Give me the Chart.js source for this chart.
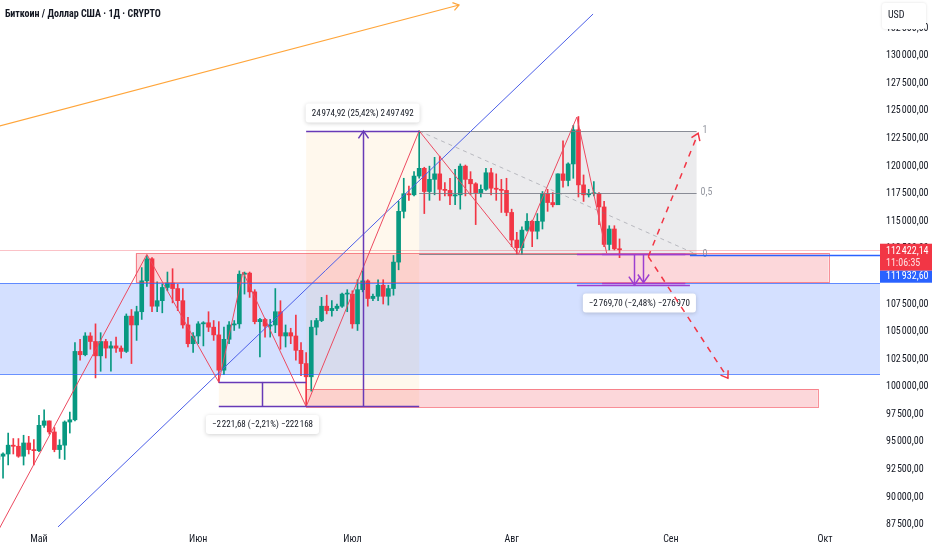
<!DOCTYPE html>
<html>
<head>
<meta charset="utf-8">
<script src="https://cdn.jsdelivr.net/npm/chart.js@4.4.1/dist/chart.umd.min.js"></script>
<style>
html, body { margin: 0; padding: 0; background: #fff; }
#wrap { width: 932px; height: 550px; }
</style>
</head>
<body>
<div id="wrap"><canvas id="chart"></canvas></div>
<script>
// --- данные (дневные свечи BTC/USD) ---
const monthDays = [0, 31, 61, 92, 123, 153];
const monthNames = ['Май', 'Июн', 'Июл', 'Авг', 'Сен', 'Окт'];
const priceTicks = [87500, 90000, 92500, 95000, 97500, 100000, 102500, 105000, 107500,
    110000, 112500, 115000, 117500, 120000, 122500, 125000, 127500, 130000, 132500];

const dates = ['04-23','04-24','04-25','04-26','04-27','04-28','04-29','04-30',
    '05-01','05-02','05-03','05-04','05-05','05-06','05-07','05-08','05-09','05-10','05-11','05-12','05-13','05-14','05-15','05-16',
    '05-17','05-18','05-19','05-20','05-21','05-22','05-23','05-24','05-25','05-26','05-27','05-28','05-29','05-30','05-31',
    '06-01','06-02','06-03','06-04','06-05','06-06','06-07','06-08','06-09','06-10','06-11','06-12','06-13','06-14','06-15',
    '06-16','06-17','06-18','06-19','06-20','06-21','06-22','06-23','06-24','06-25','06-26','06-27','06-28','06-29','06-30',
    '07-01','07-02','07-03','07-04','07-05','07-06','07-07','07-08','07-09','07-10','07-11','07-12','07-13','07-14','07-15',
    '07-16','07-17','07-18','07-19','07-20','07-21','07-22','07-23','07-24','07-25','07-26','07-27','07-28','07-29','07-30','07-31',
    '08-01','08-02','08-03','08-04','08-05','08-06','08-07','08-08','08-09','08-10','08-11','08-12','08-13','08-14','08-15',
    '08-16','08-17','08-18','08-19','08-20','08-21','08-22'];
const opens = [93400,93700,93900,94700,94600,93700,94900,94300,
    94200,96500,96900,95900,94300,94700,96800,97000,103200,102900,104600,104100,102800,104100,103500,103700,
    103500,103200,106400,105600,106800,109600,111600,107300,107800,109000,109400,108900,107800,105600,103900,
    104600,105700,105800,105400,104700,101500,104300,105600,105700,110200,110300,108600,105900,106100,105500,
    105600,106800,104600,104900,104600,103300,102100,100900,105400,106000,107300,106900,107100,107300,108400,
    108400,105700,108800,109600,108000,108200,109200,108200,108900,111300,115900,117500,117400,119100,119800,
    117700,118800,119300,117900,117800,117300,117400,120000,118800,118400,117600,117900,119400,118000,117900,117800,
    115800,113300,112600,114200,115000,114100,115000,117500,116700,116500,119300,118700,120200,123300,118300,
    117400,117500,117500,116300,112900,114300,112500];
const highs = [94500,94000,95800,95300,95300,95600,95500,95200,
    97400,97900,96900,96300,95200,96900,97700,104000,104300,104900,104900,105700,104900,104300,104100,104500,
    103700,106600,107000,107300,110800,111900,111700,109500,109300,110400,110700,109300,108900,106300,104900,
    105900,105900,106800,106000,105900,105400,105900,106000,110500,110400,110400,108800,106200,106200,106100,
    108900,107800,105600,105300,106500,104000,103100,106000,106200,108100,108300,107800,107500,108500,108800,
    108700,109700,110500,109700,108400,109700,109700,109200,111900,116800,118900,118200,119500,123200,119900,
    120000,120800,120900,118500,118900,119700,120200,120100,119500,118500,118300,119800,119800,119300,118800,118900,
    116100,114000,114500,115700,115100,115700,117700,117900,117600,119300,122300,120300,123700,124500,119200,
    117900,118600,117600,116800,114600,114600,113400];
const lows = [91900,91700,92900,93900,93600,92900,93900,92900,
    94100,96300,95700,94100,93500,93400,95800,96900,102400,102800,103400,100800,101400,102600,101400,103100,
    102600,103100,102100,104200,106100,109100,106800,106800,106700,108700,107600,106900,105300,103600,103100,
    103900,103700,105000,104200,100400,101100,103900,105100,105300,108400,108100,105700,102700,104500,104500,
    104900,103400,103600,103900,102400,101000,98200,99600,104700,105900,106600,106400,106900,107200,106800,
    105300,105100,108600,107300,107800,107800,107500,107400,108300,110600,115300,116900,117300,118900,115700,
    116900,117400,116900,117300,116500,116500,116100,117300,117400,114700,117200,117800,117400,116900,115800,115500,
    112700,112000,112000,114100,112700,113400,114300,115900,116300,116500,118100,118200,118900,117200,116800,
    117200,117300,114700,112700,112400,112400,111700];
const closes = [93700,93900,94700,94600,93700,94900,94300,94200,
    96500,96900,95900,94300,94700,96800,97000,103200,102900,104600,104100,102800,104100,103500,103700,103500,
    103200,106400,105600,106800,109600,111600,107300,107800,109000,109400,108900,107800,105600,103900,104600,
    105700,105800,105400,104700,101500,104300,105600,105700,110200,110300,108600,105900,106100,105500,105600,
    106800,104600,104900,104600,103300,102100,100900,105400,106000,107300,106900,107100,107300,108400,108400,
    105700,108800,109600,108000,108200,109200,108200,108900,111300,115900,117500,117400,119100,119800,117700,
    118800,119300,117900,117800,117300,117400,120000,118800,118400,117600,117900,119400,118000,117900,117800,115800,
    113300,112600,114200,115000,114100,115000,117500,116700,116500,119300,118700,120200,123300,118300,117400,
    117500,117500,116300,112900,114300,112500,112422.14];

// --- разметка поверх графика (дни от 1 мая, цены) ---
const blueZone = [101160, 109380];
const pinkZone = { d0: 18.8, d1: 153.7, p0: 109430, p1: 112100 };
const lowZone = { d0: 52, d1: 151.6, p0: 98150, p1: 99780 };
const fib = { d0: 74, d1: 128, p0: 112000, p1: 123187 };
const zigDays = [-8, 21, 35, 39.7, 52, 74, 93.3, 104.7, 110.5];
const zigPrices = [86900, 112000, 100400, 110400, 98200, 123200, 112000, 124450, 112100];
const trendBlue = [[3.7, 87285], [107.85, 133794]];
const trendOrange = [[-8, 123590], [81.76, 134610]];
const pathUp = [[118.6, 111790], [128.3, 122980]];
const pathDown = [[118.6, 111790], [134.1, 100770]];
const rayLevel = 111932.60;
const lastPrice = 112422.14;
const measures = [
    { d0: 52, d1: 74, p0: 98212, p1: 123187, text: '24\u200a974,92 (25,42%) 2\u200a497\u200a492', fill: true },
    { d0: 35, d1: 52, p0: 100433, p1: 98212, text: '\u22122\u200a221,68 (\u22122,21%) \u2212222\u200a168', fill: true },
    { d0: 104.7, d1: 126.7, p0: 112000, p1: 109230, text: '\u22122\u200a769,70 (\u22122,48%) \u2212276\u200a970', fill: false, arrowAt: 115.8 },
    { d0: 109.6, d1: 125.8, p0: 112000, p1: 109430, text: null, fill: false, arrowAt: 117.6 }
];

const FONT = '"Liberation Sans Narrow", "Roboto Condensed", "Noto Sans", sans-serif';
const UP = '#089981';
const DOWN = '#f23645';

function dayOf(md) {
    const [m, d] = md.split('-').map(Number);
    return (Date.UTC(2025, m - 1, d) - Date.UTC(2025, 4, 1)) / 864e5;
}

function fmt(v) {
    const parts = v.toFixed(2).split('.');
    return parts[0].replace(/\B(?=(\d{3})+(?!\d))/g, '\u200a') + ',' + parts[1];
}

function candleColor(c) {
    const i = c.dataIndex;
    return closes[i] >= opens[i] ? UP : DOWN;
}

function seg(ctx, x1, y1, x2, y2, color, width, dash) {
    ctx.save();
    ctx.strokeStyle = color;
    ctx.lineWidth = width || 1;
    ctx.setLineDash(dash || []);
    ctx.beginPath();
    ctx.moveTo(x1, y1);
    ctx.lineTo(x2, y2);
    ctx.stroke();
    ctx.restore();
}

function hline(ctx, x1, x2, y, color, width) {
    const yy = Math.round(y) + 0.5;
    seg(ctx, x1, yy, x2, yy, color, width);
}

function head(ctx, x1, y1, x2, y2, len, color, width) {
    const a = Math.atan2(y2 - y1, x2 - x1);
    const s = 0.6;
    ctx.save();
    ctx.strokeStyle = color;
    ctx.lineWidth = width || 1;
    ctx.beginPath();
    ctx.moveTo(x2 - len * Math.cos(a - s), y2 - len * Math.sin(a - s));
    ctx.lineTo(x2, y2);
    ctx.lineTo(x2 - len * Math.cos(a + s), y2 - len * Math.sin(a + s));
    ctx.stroke();
    ctx.restore();
}

function tag(ctx, text, cx, cy) {
    ctx.save();
    ctx.font = '9px ' + FONT;
    const w = ctx.measureText(text).width + 12;
    const h = 19;
    ctx.shadowColor = 'rgba(0,0,0,0.18)';
    ctx.shadowBlur = 4;
    ctx.shadowOffsetY = 1;
    ctx.fillStyle = '#fff';
    ctx.beginPath();
    ctx.roundRect(cx - w / 2, cy - h / 2, w, h, 3);
    ctx.fill();
    ctx.shadowColor = 'transparent';
    ctx.fillStyle = '#131722';
    ctx.textAlign = 'center';
    ctx.textBaseline = 'middle';
    ctx.fillText(text, cx, cy + 0.5);
    ctx.restore();
}

function clipArea(ctx, a) {
    ctx.beginPath();
    ctx.rect(a.left, a.top, a.right - a.left, a.bottom - a.top);
    ctx.clip();
}

const drawings = {
    id: 'drawings',
    beforeDatasetsDraw(chart) {
        const { ctx, chartArea: a, scales: { x, y } } = chart;
        const X = v => x.getPixelForValue(v);
        const Y = v => y.getPixelForValue(v);
        ctx.save();
        clipArea(ctx, a);

        // синяя зона
        ctx.fillStyle = 'rgba(41,98,255,0.2)';
        ctx.fillRect(a.left, Y(blueZone[1]), a.right - a.left, Y(blueZone[0]) - Y(blueZone[1]));

        // серый фибо-блок
        ctx.fillStyle = 'rgba(120,123,134,0.15)';
        ctx.fillRect(X(fib.d0), Y(fib.p1), X(fib.d1) - X(fib.d0), Y(fib.p0) - Y(fib.p1));

        // измерения — кремовая заливка
        measures.forEach(m => {
            if (!m.fill) return;
            const top = Y(Math.max(m.p0, m.p1)), bot = Y(Math.min(m.p0, m.p1));
            ctx.fillStyle = 'rgba(255,152,0,0.07)';
            ctx.fillRect(X(m.d0), top, X(m.d1) - X(m.d0), bot - top);
        });

        // красные зоны
        [pinkZone, lowZone].forEach(z => {
            ctx.fillStyle = 'rgba(242,54,69,0.2)';
            ctx.fillRect(X(z.d0), Y(z.p1), X(z.d1) - X(z.d0), Y(z.p0) - Y(z.p1));
        });
        ctx.restore();
    },
    afterDatasetsDraw(chart) {
        const { ctx, chartArea: a, scales: { x, y } } = chart;
        const X = v => x.getPixelForValue(v);
        const Y = v => y.getPixelForValue(v);
        ctx.save();
        clipArea(ctx, a);

        // линия последней цены
        hline(ctx, a.left, a.right, Y(lastPrice), 'rgba(242,54,69,0.3)', 1);

        // границы синей зоны
        hline(ctx, a.left, a.right, Y(blueZone[1]), 'rgba(41,98,255,0.7)', 1);
        hline(ctx, a.left, a.right, Y(blueZone[0]), 'rgba(41,98,255,0.7)', 1);

        // рамки красных зон
        [pinkZone, lowZone].forEach(z => {
            ctx.save();
            ctx.strokeStyle = 'rgba(242,54,69,0.55)';
            ctx.lineWidth = 1;
            ctx.strokeRect(Math.round(X(z.d0)) + 0.5, Math.round(Y(z.p1)) + 0.5,
                Math.round(X(z.d1) - X(z.d0)), Math.round(Y(z.p0) - Y(z.p1)));
            ctx.restore();
        });

        // фибо уровни
        const fx0 = X(fib.d0), fx1 = X(fib.d1);
        const fmid = (fib.p0 + fib.p1) / 2;
        hline(ctx, fx0, fx1, Y(fib.p1), 'rgba(120,123,134,0.85)', 1);
        hline(ctx, fx0, fx1, Y(fmid), 'rgba(120,123,134,0.85)', 1);
        hline(ctx, fx0, fx1, Y(fib.p0), 'rgba(120,123,134,0.85)', 1);
        seg(ctx, fx0, Y(fib.p1), fx1, Y(fib.p0), 'rgba(120,123,134,0.45)', 1, [4, 4]);
        ctx.save();
        ctx.font = '10px ' + FONT;
        ctx.fillStyle = '#9598a1';
        ctx.textBaseline = 'middle';
        ctx.fillText('1', fx1 + 6, Y(fib.p1));
        ctx.fillText('0,5', fx1 + 4, Y(fmid));
        ctx.fillText('0', fx1 + 6, Y(fib.p0));
        ctx.restore();

        // луч
        hline(ctx, X(fib.d1 - 1.3), a.right, Y(rayLevel), '#2962ff', 1.5);

        // трендовые линии
        seg(ctx, X(trendBlue[0][0]), Y(trendBlue[0][1]), X(trendBlue[1][0]), Y(trendBlue[1][1]), '#4c5fe8', 1);
        const ox1 = X(trendOrange[0][0]), oy1 = Y(trendOrange[0][1]);
        const ox2 = X(trendOrange[1][0]), oy2 = Y(trendOrange[1][1]);
        seg(ctx, ox1, oy1, ox2, oy2, '#ffa53a', 1.2);
        head(ctx, ox1, oy1, ox2, oy2, 7, '#ffa53a', 1.2);

        // зигзаг
        ctx.save();
        ctx.strokeStyle = '#ec4a60';
        ctx.lineWidth = 1;
        ctx.beginPath();
        zigDays.forEach((d, i) => {
            if (i === 0) ctx.moveTo(X(d), Y(zigPrices[i]));
            else ctx.lineTo(X(d), Y(zigPrices[i]));
        });
        ctx.stroke();
        ctx.restore();

        // измерения
        measures.forEach((m, k) => {
            const col = k < 2 ? '#673ab7' : '#9c3fd0';
            const x0 = X(m.d0), x1 = X(m.d1);
            hline(ctx, x0, x1, Y(m.p0), col, 1.5);
            hline(ctx, x0, x1, Y(m.p1), col, 1.5);
            const ax = Math.round(m.arrowAt !== undefined ? X(m.arrowAt) : (x0 + x1) / 2) + 0.5;
            seg(ctx, ax, Y(m.p0), ax, Y(m.p1), col, 1.5);
            if (k === 0) head(ctx, ax, Y(m.p0), ax, Y(m.p1), 9, col, 1.5);
            if (k >= 2) head(ctx, ax, Y(m.p0), ax, Y(m.p1), 10, col, 1.5);
        });
        ctx.restore();

        // подписи измерений
        const m0 = measures[0], m1 = measures[1], m2 = measures[2];
        tag(ctx, m0.text, (X(m0.d0) + X(m0.d1)) / 2, Y(m0.p1) - 18);
        tag(ctx, m1.text, (X(m1.d0) + X(m1.d1)) / 2, Y(m1.p1) + 18);
        tag(ctx, m2.text, (X(m2.d0) + X(m2.d1)) / 2 + 6, Y(m2.p1) + 18);

        // пунктир — сценарии
        ctx.save();
        clipArea(ctx, a);
        [pathUp, pathDown].forEach(p => {
            const x1 = X(p[0][0]), y1 = Y(p[0][1]), x2 = X(p[1][0]), y2 = Y(p[1][1]);
            seg(ctx, x1, y1, x2, y2, '#f23645', 1.5, [6, 6]);
            head(ctx, x1, y1, x2, y2, 8, '#f23645', 1.5);
        });
        ctx.restore();
    },
    afterDraw(chart) {
        const { ctx, chartArea: a, scales: { y } } = chart;
        const W = chart.width;
        ctx.save();
        // ценовые метки
        const ly = y.getPixelForValue(lastPrice);
        ctx.fillStyle = DOWN;
        ctx.fillRect(a.right, ly - 6, W - a.right, 27);
        ctx.fillStyle = '#2962ff';
        ctx.fillRect(a.right, ly + 21, W - a.right, 12);
        ctx.font = '10px ' + FONT;
        ctx.textBaseline = 'middle';
        ctx.textAlign = 'left';
        ctx.fillStyle = '#fff';
        ctx.fillText(fmt(lastPrice), a.right + 6, ly + 1.5);
        ctx.fillStyle = 'rgba(255,255,255,0.85)';
        ctx.fillText('11:06:35', a.right + 6, ly + 13.5);
        ctx.fillStyle = '#fff';
        ctx.fillText(fmt(rayLevel), a.right + 6, ly + 27);

        // USD
        ctx.fillStyle = '#fff';
        ctx.shadowColor = 'rgba(0,0,0,0.12)';
        ctx.shadowBlur = 3;
        ctx.beginPath();
        ctx.roundRect(a.right + 2, 3, 44, 26, 3);
        ctx.fill();
        ctx.shadowColor = 'transparent';
        ctx.fillStyle = '#131722';
        ctx.fillText('USD', a.right + 8, 15);

        // заголовок
        ctx.font = 'bold 10px ' + FONT;
        ctx.fillStyle = '#131722';
        ctx.fillText('Биткоин / Доллар США · 1Д · CRYPTO', 5, 14);
        ctx.restore();
    }
};

const days = dates.map(dayOf);

new Chart(document.getElementById('chart'), {
    type: 'bar',
    data: {
        datasets: [
            {
                label: 'wick',
                data: days.map((d, i) => ({ x: d, y: [lows[i], highs[i]] })),
                backgroundColor: candleColor,
                barThickness: 1,
                grouped: false,
                order: 2
            },
            {
                label: 'body',
                data: days.map((d, i) => ({ x: d, y: [opens[i], closes[i]] })),
                backgroundColor: candleColor,
                barThickness: 4,
                minBarLength: 1,
                grouped: false,
                order: 1
            }
        ]
    },
    options: {
        responsive: true,
        maintainAspectRatio: false,
        animation: false,
        layout: { padding: 0 },
        plugins: { legend: { display: false }, tooltip: { enabled: false } },
        scales: {
            x: {
                type: 'linear',
                offset: false,
                min: -7.59,
                max: 163.7,
                grid: { display: false, drawTicks: false },
                border: { display: false },
                afterBuildTicks: axis => { axis.ticks = monthDays.map(v => ({ value: v })); },
                afterFit: axis => {
                    axis.height = 22;
                    axis.paddingLeft = 0;
                    axis.paddingRight = 0;
                },
                ticks: {
                    autoSkip: false,
                    maxRotation: 0,
                    padding: 5,
                    color: '#131722',
                    font: { family: FONT, size: 10 },
                    callback: v => monthNames[monthDays.indexOf(v)]
                }
            },
            y: {
                type: 'linear',
                position: 'right',
                min: 87190,
                max: 135064,
                grid: { display: false, drawTicks: false },
                border: { display: false },
                afterBuildTicks: axis => { axis.ticks = priceTicks.map(v => ({ value: v })); },
                afterFit: axis => {
                    axis.width = 52;
                    axis.paddingTop = 0;
                    axis.paddingBottom = 0;
                },
                ticks: {
                    padding: 6,
                    color: '#131722',
                    font: { family: FONT, size: 10 },
                    callback: v => fmt(v)
                }
            }
        }
    },
    plugins: [drawings]
});
</script>
</body>
</html>
